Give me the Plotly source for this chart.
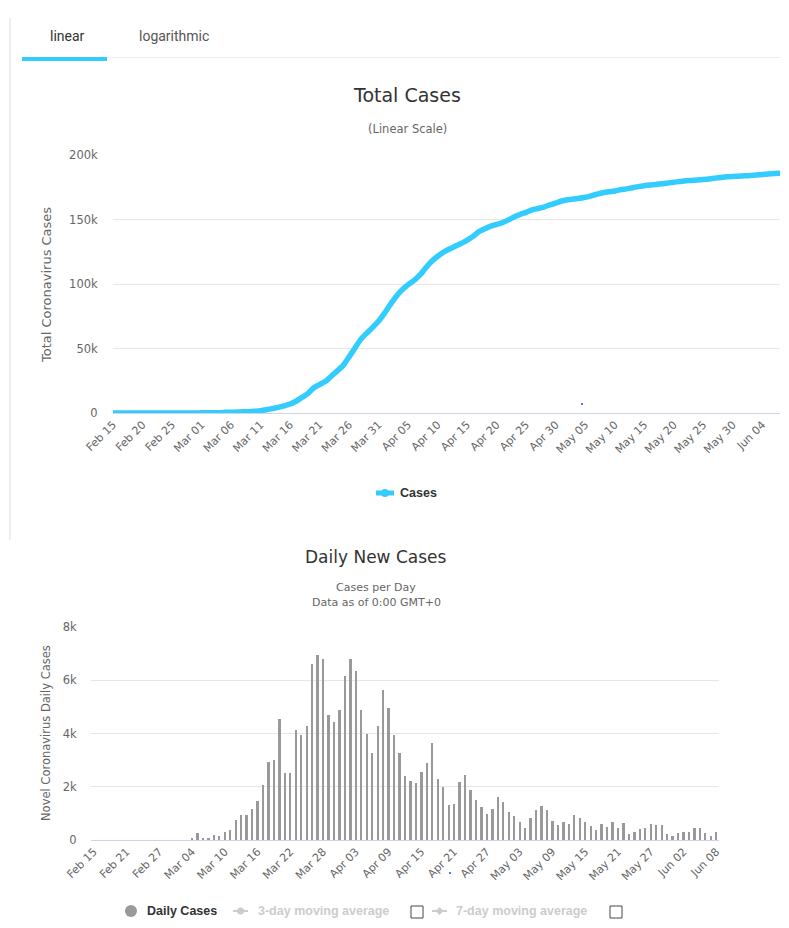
import plotly.graph_objects as go
import pandas as pd

# the page body has an 8px margin, so the figure is placed at (8, 8)
OX, OY = 8, 8
W, H = 789 - OX, 928 - OY

# ---------------- data ----------------
total_start, total_end = "2020-02-15", "2020-06-07"
total_cases = [
    16, 16, 16, 16, 16, 16, 16, 16, 16, 16,
    18, 21, 26, 53, 66, 117, 150, 188,
    240, 515, 605, 695, 895, 1055, 1365, 1755, 2515, 3445, 4375, 5555, 7005,
    9085, 12025, 15015, 19545, 22045, 24545, 28695, 32625, 36925, 43525,
    50455, 57265, 61965,
    66400, 71300, 77450, 84230, 90570, 95470, 99470, 102720, 107000, 112630,
    117570, 121500, 124750, 127140, 129340, 131470, 134010, 136920, 140580,
    142890, 144890, 146190, 147550, 149710, 152170, 154030, 155520,
    157550, 158530, 159680, 161280, 162720,
    164360, 165250, 165940, 166400, 167240, 168380, 169640, 170780, 171510,
    172060, 173150, 173740, 174670, 175510, 176200, 176740, 177130,
    177740, 178230, 178920, 179380, 180030, 180270, 180580, 181010, 181470,
    182060, 182610, 183160, 183400, 183560,
    183820, 184130, 184440, 184900, 185360, 185640, 185800,
]

daily_start, daily_end = "2020-02-15", "2020-06-08"
daily_cases = [
    0, 0, 0, 0, 0, 0, 0, 0, 0, 0, 0, 0, 0, 0, 0, 0, 0, 0,
    50, 275, 90, 90, 200, 160, 310, 390, 760, 930, 930, 1180, 1450, 2080,
    2940, 2990, 4530, 2500, 2500, 4150, 3930, 4300, 6600, 6930, 6810, 4700,
    4430, 4900, 6150, 6780, 6340, 4900, 4000, 3250, 4280, 5630, 4940, 3930,
    3250, 2390, 2200, 2130, 2540, 2910, 3660, 2310, 2000, 1300, 1360, 2160,
    2460, 1860, 1490,
    1230, 980, 1150, 1600, 1440, 1040, 890, 690, 460, 840, 1140, 1260, 1140,
    730, 550, 690, 590, 930, 840, 690, 540, 390,
    610, 490, 690, 460, 650, 240, 310, 430, 460, 590, 550, 550, 240, 160,
    260, 310, 310, 460, 460, 280, 160, 310,
]

top_tick_labels = ["Feb 15", "Feb 20", "Feb 25", "Mar 01", "Mar 06", "Mar 11",
                   "Mar 16", "Mar 21", "Mar 26", "Mar 31", "Apr 05", "Apr 10",
                   "Apr 15", "Apr 20", "Apr 25", "Apr 30", "May 05", "May 10",
                   "May 15", "May 20", "May 25", "May 30", "Jun 04"]
bottom_tick_labels = ["Feb 15", "Feb 21", "Feb 27", "Mar 04", "Mar 10", "Mar 16",
                      "Mar 22", "Mar 28", "Apr 03", "Apr 09", "Apr 15", "Apr 21",
                      "Apr 27", "May 03", "May 09", "May 15", "May 21", "May 27",
                      "Jun 02", "Jun 08"]
top_y_ticks = [0, 50000, 100000, 150000, 200000]
top_y_labels = ["0", "50k", "100k", "150k", "200k"]
bottom_y_ticks = [0, 2000, 4000, 6000, 8000]
bottom_y_labels = ["0", "2k", "4k", "6k", "8k"]

total_dates = pd.date_range(total_start, total_end, freq="D")
daily_dates = pd.date_range(daily_start, daily_end, freq="D")
top_tick_dates = pd.date_range(total_start, periods=len(top_tick_labels), freq="5D")
bottom_tick_dates = pd.date_range(daily_start, periods=len(bottom_tick_labels), freq="6D")

# ---------------- helpers (page pixel -> paper) ----------------
def px(x):
    return (x - OX) / W

def py(y):
    return 1 - (y - OY) / H

BLUE = "#33ccff"
GRID = "#e6e6e6"
AXIS = "#ccd6eb"
FONT = "DejaVu Sans"
LEGFONT = "Liberation Sans"

fig = go.Figure()

fig.add_trace(go.Scatter(
    x=total_dates, y=total_cases, mode="lines",
    line=dict(color=BLUE, width=5.5, shape="spline", smoothing=0.6),
    xaxis="x", yaxis="y", showlegend=False, hoverinfo="x+y",
))

fig.add_trace(go.Bar(
    x=daily_dates, y=daily_cases, marker=dict(color="#999999", line=dict(width=0)),
    width=86400000 * 0.42,
    xaxis="x2", yaxis="y2", showlegend=False,
))

tickfont = dict(family=FONT, size=11, color="#666666")
ytickfont = dict(family=FONT, size=11.5, color="#666666")

fig.update_layout(
    width=W, height=H,
    margin=dict(l=0, r=0, t=0, b=0),
    paper_bgcolor="white", plot_bgcolor="white",
    bargap=0,
    xaxis=dict(
        domain=[px(113), px(780)], type="date",
        range=[total_dates[0], total_dates[-1]],
        tickvals=top_tick_dates, ticktext=top_tick_labels,
        tickangle=-45, tickfont=tickfont,
        showgrid=False, zeroline=False, showline=True, linecolor=AXIS, linewidth=1,
        ticks="", automargin=False, anchor="y",
    ),
    yaxis=dict(
        domain=[py(413), py(155)], range=[0, 200000],
        tickvals=top_y_ticks, ticktext=top_y_labels, tickfont=ytickfont,
        showgrid=True, gridcolor=GRID, zeroline=False, showline=False,
        ticks="outside", ticklen=12, tickcolor="rgba(0,0,0,0)",
        automargin=False, anchor="x",
    ),
    xaxis2=dict(
        domain=[px(91), px(719)], type="date",
        range=[daily_dates[0] - pd.Timedelta(hours=12), daily_dates[-1] + pd.Timedelta(hours=12)],
        tickvals=bottom_tick_dates, ticktext=bottom_tick_labels,
        tickangle=-45, tickfont=tickfont,
        showgrid=False, zeroline=False, showline=True, linecolor=AXIS, linewidth=1,
        ticks="", automargin=False, anchor="y2",
    ),
    yaxis2=dict(
        domain=[py(840), py(627)], range=[0, 8000],
        tickvals=bottom_y_ticks, ticktext=bottom_y_labels, tickfont=ytickfont,
        showgrid=True, gridcolor=GRID, zeroline=False, showline=False,
        ticks="outside", ticklen=11, tickcolor="rgba(0,0,0,0)",
        automargin=False, anchor="x2",
    ),
)

ann = []

def text(x, y, s, size=12, color="#333333", family=FONT, xanchor="center", angle=0):
    ann.append(dict(x=px(x), y=py(y), xref="paper", yref="paper", text=s,
                    showarrow=False, xanchor=xanchor, yanchor="middle",
                    textangle=angle, font=dict(family=family, size=size, color=color)))

# tabs
text(67, 36, "linear", size=14, color="#333333", family="Roboto")
text(174, 36, "logarithmic", size=14, color="#555555", family="Roboto")

# titles
text(407, 95, "Total Cases", size=19, color="#333333")
text(407, 129, "(Linear Scale)", size=11.5, color="#666666")
text(46, 285, "Total Coronavirus Cases", size=13, color="#666666", angle=-90)

text(376, 557, "Daily New Cases", size=17, color="#333333")
text(376, 587, "Cases per Day", size=11, color="#666666")
text(376, 602, "Data as of 0:00 GMT+0", size=11, color="#666666")
text(46, 733, "Novel Coronavirus Daily Cases", size=11.5, color="#666666", angle=-90)

# legends
text(398, 493, "<b>Cases</b>", size=12.5, color="#333333", family=LEGFONT, xanchor="left")
text(145, 911, "<b>Daily Cases</b>", size=12.5, color="#333333", family=LEGFONT, xanchor="left")
text(256, 911, "<b>3-day moving average</b>", size=12.5, color="#cccccc", family=LEGFONT, xanchor="left")
text(454, 911, "<b>7-day moving average</b>", size=12.5, color="#cccccc", family=LEGFONT, xanchor="left")

shapes = []

def line(x0, y0, x1, y1, color, width):
    shapes.append(dict(type="line", xref="paper", yref="paper",
                       x0=px(x0), y0=py(y0), x1=px(x1), y1=py(y1),
                       line=dict(color=color, width=width)))

def circle(cx, cy, r, color):
    shapes.append(dict(type="circle", xref="paper", yref="paper",
                       x0=px(cx - r), y0=py(cy + r), x1=px(cx + r), y1=py(cy - r),
                       fillcolor=color, line=dict(width=0)))

def box(x0, y0, x1, y1, color):
    shapes.append(dict(type="rect", xref="paper", yref="paper",
                       x0=px(x0), y0=py(y1), x1=px(x1), y1=py(y0),
                       line=dict(color=color, width=1), fillcolor="white"))

# frame / tabs decoration
line(10, 18, 10, 540, "#dddddd", 1)
line(22, 57.5, 789, 57.5, "#eeeeee", 1)
line(22, 59, 107, 59, BLUE, 4)

# top legend symbol
line(376, 493, 394, 493, BLUE, 5)
circle(385, 493, 4, BLUE)

# bottom legend symbols
circle(131, 911, 6, "#999999")
line(233, 911, 248, 911, "#cccccc", 2)
circle(240.5, 911, 3.5, "#cccccc")
line(432, 911, 447, 911, "#cccccc", 2)
shapes.append(dict(type="path", xref="paper", yref="paper",
                   path="M {} {} L {} {} L {} {} L {} {} Z".format(
                       px(439.5), py(907), px(443.5), py(911), px(439.5), py(915), px(435.5), py(911)),
                   fillcolor="#cccccc", line=dict(width=0)))
box(411, 906, 423, 918, "#444444")
box(610, 906, 622, 918, "#444444")

# stray dots visible in the reference
circle(582, 404, 1, "#3333ff")
circle(450, 873, 1, "#3333ff")

fig.update_layout(annotations=ann, shapes=shapes)

fig.write_html("out.html")
